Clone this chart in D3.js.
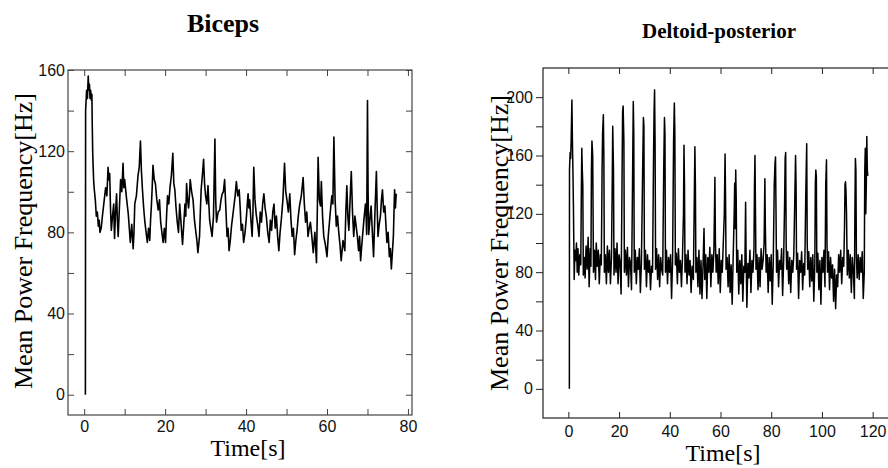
<!DOCTYPE html>
<html><head><meta charset="utf-8">
<script src="https://cdn.jsdelivr.net/npm/d3@7"></script>
<style>body{margin:0;background:#fff}svg{display:block}</style>
</head><body><svg id="c" width="888" height="468"></svg>
<script>
// ---------------- data ----------------
const chartTitles = ["Biceps", "Deltoid-posterior"];
const xAxisTitle = "Time[s]";
const yAxisTitle = "Mean Power Frequency[Hz]";

const bicepsXTicks = [0,10,20,30,40,50,60,70,80];
const bicepsXLabels = [0,20,40,60,80];
const bicepsYTicks = [0,20,40,60,80,100,120,140,160];
const bicepsYLabels = [0,40,80,120,160];

const deltoidXTicks = [0,20,40,60,80,100,120];
const deltoidXLabels = [0,20,40,60,80,100,120];
const deltoidYTicks = [0,20,40,60,80,100,120,140,160,180,200];
const deltoidYLabels = [0,40,80,120,160,200];

// [time s, mean power frequency Hz]
const bicepsPoints = [
[0.3,0],[0.35,140],[0.6,150],[0.8,146],[1.0,157],[1.15,150],[1.3,153],[1.45,146],[1.6,150],[1.8,145],
[1.9,148],[2.0,132],[2.1,120],[2.2,113],[2.35,105],[2.5,101],[2.75,96],[3.0,88],[3.25,90],[3.5,83],
[3.7,86],[3.9,80],[4.2,82],[4.5,88],[4.9,95],[5.3,102],[5.6,98],[5.9,112],[6.1,106],[6.3,109],
[6.5,92],[6.7,81],[7.0,88],[7.3,94],[7.4,84],[7.5,77],[7.75,90],[8.0,99],[8.2,86],[8.4,78],
[8.7,92],[9.0,106],[9.3,100],[9.6,114],[9.8,102],[10.0,106],[10.45,97],[10.9,89],[11.15,82],[11.4,75],
[11.75,84],[12.1,72],[12.3,80],[12.5,94],[12.9,98],[13.3,108],[13.6,112],[13.9,125],[14.15,110],[14.4,101],
[14.7,92],[15.0,85],[15.3,80],[15.6,75],[15.9,82],[16.2,76],[16.4,86],[16.6,93],[16.8,102],[17.0,113],
[17.3,106],[17.6,104],[17.95,96],[18.3,91],[18.6,96],[18.9,85],[19.2,80],[19.5,75],[19.8,82],[20.1,75],
[20.35,88],[20.6,98],[20.9,94],[21.2,102],[21.55,108],[21.9,119],[22.15,104],[22.4,101],[22.7,92],[23.0,85],
[23.3,80],[23.6,94],[23.95,84],[24.3,74],[24.6,84],[24.9,94],[25.1,88],[25.3,104],[25.55,96],[25.8,92],
[26.0,98],[26.2,106],[26.55,100],[26.9,96],[27.25,86],[27.6,80],[27.85,76],[28.1,70],[28.3,74],[28.5,78],
[28.7,90],[28.9,101],[29.2,108],[29.5,116],[29.75,104],[30.0,98],[30.3,94],[30.6,103],[30.8,94],[31.0,86],
[31.3,82],[31.6,78],[31.95,88],[32.3,126],[32.5,96],[32.7,85],[33.1,90],[33.5,91],[33.8,96],[34.1,99],
[34.4,100],[34.7,106],[35.0,92],[35.3,78],[35.55,82],[35.8,71],[36.1,76],[36.4,83],[36.7,88],[37.0,93],
[37.3,98],[37.6,105],[37.95,98],[38.3,101],[38.55,92],[38.8,81],[39.1,84],[39.4,75],[39.75,80],[40.1,88],
[40.3,94],[40.5,99],[40.7,92],[40.9,96],[41.2,86],[41.5,78],[41.7,90],[41.9,112],[42.2,96],[42.5,89],
[42.85,84],[43.2,78],[43.5,90],[43.8,85],[44.1,94],[44.4,99],[44.7,92],[45.0,88],[45.35,80],[45.7,75],
[46.0,86],[46.3,81],[46.6,90],[46.9,94],[47.2,82],[47.5,88],[47.8,78],[48.1,71],[48.4,80],[48.7,86],
[49.1,96],[49.5,114],[49.8,100],[50.1,96],[50.45,90],[50.8,99],[51.1,86],[51.4,78],[51.7,82],[52.0,69],
[52.3,76],[52.6,81],[52.9,88],[53.2,93],[53.65,98],[54.1,107],[54.4,94],[54.7,85],[55.0,90],[55.3,78],
[55.6,82],[55.9,85],[56.25,78],[56.6,70],[57.0,80],[57.4,65],[57.6,90],[57.8,117],[58.1,96],[58.4,93],
[58.6,105],[58.9,88],[59.2,78],[59.6,74],[60.0,68],[60.3,78],[60.6,85],[60.9,92],[61.2,98],[61.45,94],
[61.7,127],[62.0,96],[62.3,83],[62.6,88],[62.9,80],[63.2,74],[63.5,66],[63.95,76],[64.4,71],[64.65,90],
[64.9,103],[65.15,88],[65.4,81],[65.7,96],[66.0,110],[66.3,90],[66.6,78],[66.9,88],[67.2,83],[67.5,78],
[67.8,71],[68.05,78],[68.3,66],[68.6,74],[68.9,81],[69.2,88],[69.5,94],[69.7,86],[69.8,79],[70.0,145],
[70.15,100],[70.3,79],[70.6,86],[70.9,93],[71.2,80],[71.5,68],[71.85,90],[72.2,110],[72.4,92],[72.6,78],
[72.9,84],[73.2,88],[73.45,96],[73.7,101],[74.0,90],[74.3,93],[74.55,84],[74.8,75],[75.1,80],[75.4,68],
[75.65,72],[75.9,62],[76.15,70],[76.4,78],[76.55,90],[76.7,101],[76.9,92],[77.1,99]
];

const deltoidPoints = [
[0.4,0],[0.45,150],[0.7,162],[0.9,158],[1.1,170],[1.4,198],[1.6,170],[1.8,150],[2.0,125],[2.3,75],
[2.6,95],[2.9,88],[3.2,100],[3.5,80],[3.8,96],[4.1,78],[4.5,92],[4.9,85],
[5.1,130],[5.3,165],[5.5,150],[5.7,140],[5.9,78],[6.3,90],[6.6,76],[7.0,98],[7.4,82],[7.8,104],[8.2,70],[8.6,96],[8.9,84],
[9.1,150],[9.3,170],[9.6,160],[9.9,80],[10.3,95],[10.7,75],[11.0,100],[11.4,84],[11.8,95],[12.2,72],[12.6,92],[13.0,85],
[13.3,150],[13.5,175],[13.8,188],[14.0,160],[14.2,80],[14.6,92],[15.0,72],[15.4,98],[15.8,80],[16.2,95],[16.6,72],[17.0,90],
[17.3,140],[17.5,180],[17.8,150],[18.0,78],[18.4,96],[18.8,80],[19.2,100],[19.6,72],[20.0,92],[20.4,86],[20.8,65],
[21.2,150],[21.4,190],[21.6,194],[21.9,170],[22.1,80],[22.5,95],[22.9,78],[23.3,97],[23.7,70],[24.1,90],[24.5,86],[24.9,68],
[25.3,140],[25.6,197],[25.8,175],[26.0,80],[26.4,95],[26.8,72],[27.2,90],[27.6,82],[28.0,96],[28.4,66],[28.8,86],
[29.3,150],[29.6,186],[29.8,180],[30.0,82],[30.4,95],[30.8,70],[31.2,92],[31.6,80],[32.0,88],[32.4,68],[32.8,84],[33.2,80],
[33.6,160],[33.8,190],[34.0,205],[34.2,170],[34.4,82],[34.8,96],[35.2,75],[35.6,92],[36.0,70],[36.4,90],[36.8,82],[37.2,78],
[37.6,150],[37.9,186],[38.1,175],[38.3,80],[38.7,95],[39.1,72],[39.5,90],[39.9,80],[40.3,92],[40.7,62],[41.1,88],
[41.5,170],[41.8,196],[42.0,175],[42.2,85],[42.6,93],[43.0,72],[43.4,96],[43.8,80],[44.2,88],[44.6,70],[45.0,90],
[45.4,120],[45.6,167],[45.8,140],[46.0,80],[46.4,92],[46.8,72],[47.2,95],[47.6,78],[48.0,88],[48.4,66],[48.8,84],[49.3,75],
[49.6,120],[49.9,166],[50.1,140],[50.3,80],[50.7,90],[51.1,70],[51.5,95],[51.9,65],[52.3,88],[52.7,62],[53.1,84],[53.5,110],
[53.8,75],[54.2,92],[54.6,62],[55.0,90],[55.4,80],[55.8,97],[56.2,70],[56.6,92],[57.0,80],[57.4,95],
[57.6,120],[57.8,145],[58.0,100],[58.3,80],[58.7,92],[59.1,72],[59.5,96],[59.9,66],[60.3,88],[60.7,80],[61.1,100],
[61.5,120],[61.8,161],[62.0,130],[62.2,82],[62.6,90],[63.0,70],[63.4,92],[63.8,66],[64.2,85],[64.6,58],[65.0,90],
[65.4,120],[65.6,141],[65.8,110],[66.0,150],[66.2,130],[66.4,80],[66.8,95],[67.2,65],[67.6,88],[68.0,72],[68.4,92],[68.8,60],[69.2,84],[69.6,80],
[69.9,128],[70.1,90],[70.4,56],[70.8,86],[71.2,76],[71.6,95],[72.0,66],[72.4,88],[72.8,80],[73.2,96],
[73.4,140],[73.6,160],[73.8,120],[74.0,82],[74.4,92],[74.8,68],[75.2,90],[75.6,70],[76.0,96],[76.4,82],[76.8,88],[77.2,100],
[77.5,144],[77.7,110],[78.0,80],[78.4,92],[78.8,66],[79.2,90],[79.6,74],[80.0,92],[80.4,58],[80.8,86],[81.2,140],
[81.5,155],[81.7,159],[81.9,120],[82.1,80],[82.5,95],[82.9,70],[83.3,88],[83.7,82],[84.1,96],[84.5,64],[84.9,88],[85.3,130],
[85.5,158],[85.7,162],[85.9,100],[86.1,82],[86.5,94],[86.9,72],[87.3,90],[87.7,66],[88.1,88],[88.5,80],[88.9,92],[89.3,130],
[89.6,160],[89.8,140],[90.0,82],[90.4,93],[90.8,62],[91.2,88],[91.6,80],[92.0,94],[92.4,68],[92.8,86],[93.2,78],[93.6,130],
[93.8,150],[94.0,168],[94.2,100],[94.4,82],[94.8,94],[95.2,70],[95.6,90],[96.0,74],[96.4,92],[96.8,60],[97.2,86],
[97.4,140],[97.6,150],[97.8,145],[98.0,80],[98.4,93],[98.8,68],[99.2,88],[99.6,58],[100.0,90],[100.4,80],[100.8,95],[101.2,70],
[101.5,140],[101.8,157],[102.0,100],[102.2,80],[102.6,94],[103.0,68],[103.4,90],[103.8,76],[104.2,85],[104.6,60],[105.0,82],
[105.4,55],[105.8,78],[106.2,70],[106.6,92],[107.0,80],[107.4,95],[107.8,72],[108.2,90],[108.6,84],
[108.9,110],[109.1,140],[109.3,142],[109.5,135],[109.7,120],[110.0,78],[110.4,95],[110.8,76],[111.2,92],[111.6,66],[112.0,90],[112.4,80],[112.8,62],
[113.0,120],[113.2,158],[113.4,150],[113.6,90],[113.9,76],[114.3,92],[114.7,75],[115.1,90],[115.5,80],[115.9,94],[116.3,62],[116.7,80],
[116.9,150],[117.1,165],[117.3,120],[117.5,140],[117.7,173],[117.9,150],[118.1,146]
];

// ---------------- drawing ----------------
const svg = d3.select("#c");
svg.append("rect").attr("width",888).attr("height",468).attr("fill","#fff");
const SERIF = "'Liberation Serif','Times New Roman',serif";
const SANS = "'Liberation Sans',Arial,sans-serif";

function panel(o){
  const g = svg.append("g");
  const x = d3.scaleLinear().domain(o.xDom).range([o.left,o.right]);
  const y = d3.scaleLinear().domain(o.yDom).range([o.bottom,o.top]);
  const cid = "clip" + o.id;
  svg.append("clipPath").attr("id",cid).append("rect")
    .attr("x",o.left).attr("y",o.top).attr("width",o.right-o.left).attr("height",o.bottom-o.top);

  g.append("path").datum(o.data)
    .attr("clip-path",`url(#${cid})`)
    .attr("fill","none").attr("stroke","#000").attr("stroke-width",o.lineWidth)
    .attr("stroke-linejoin","round")
    .attr("d", d3.line().x(d=>x(d[0])).y(d=>y(d[1])));

  const fmt = labels => d => labels.includes(d) ? String(d) : "";
  const style = sel => {
    sel.select(".domain").remove();
    sel.selectAll("line").attr("stroke",o.axisColor).attr("stroke-width",1);
    sel.selectAll("text").attr("font-family",SANS).attr("font-size",16).attr("fill","#111");
  };

  g.append("g").attr("transform",`translate(0,${o.bottom})`)
    .call(d3.axisBottom(x).tickValues(o.xTicks).tickFormat(fmt(o.xLabels)).tickSizeInner(-6).tickSizeOuter(0).tickPadding(o.xPad))
    .call(style);
  g.append("g").attr("transform",`translate(0,${o.top})`)
    .call(d3.axisTop(x).tickValues(o.xTicks).tickFormat("").tickSizeInner(-6).tickSizeOuter(0))
    .call(style);
  g.append("g").attr("transform",`translate(${o.left},0)`)
    .call(d3.axisLeft(y).tickValues(o.yTicks).tickFormat(fmt(o.yLabels)).tickSizeInner(o.yTickLeft).tickSizeOuter(0).tickPadding(o.yPad))
    .call(style);
  g.append("g").attr("transform",`translate(${o.right},0)`)
    .call(d3.axisRight(y).tickValues(o.yTicks).tickFormat("").tickSizeInner(-6).tickSizeOuter(0))
    .call(style);

  g.append("rect").attr("x",o.left).attr("y",o.top)
    .attr("width",o.right-o.left).attr("height",o.bottom-o.top)
    .attr("fill","none").attr("stroke",o.axisColor).attr("stroke-width",1.2);

  g.append("text").attr("x",o.titleX).attr("y",o.titleY).attr("text-anchor","middle")
    .attr("font-family",SERIF).attr("font-weight","bold").attr("font-size",o.titleSize).attr("fill","#000")
    .text(o.title);
  g.append("text").attr("x",o.xTitleX).attr("y",o.xTitleY).attr("text-anchor","middle")
    .attr("font-family",SERIF).attr("font-size",24).attr("fill","#000").text(xAxisTitle);
  g.append("text").attr("transform",`translate(${o.yTitleX},${o.yTitleY}) rotate(-90)`)
    .attr("text-anchor","middle")
    .attr("font-family",SERIF).attr("font-size",26).attr("fill","#000").text(yAxisTitle);
}

panel({
  id:"a", data:bicepsPoints, title:chartTitles[0], lineWidth:1.6,
  left:68, right:412, top:70, bottom:415,
  xDom:[-4,81], yDom:[-10,160],
  xTicks:bicepsXTicks, xLabels:bicepsXLabels, yTicks:bicepsYTicks, yLabels:bicepsYLabels,
  yTickLeft:-6, yPad:3, xPad:6, axisColor:"#444",
  titleX:223, titleY:32, titleSize:26,
  xTitleX:248, xTitleY:456, yTitleX:32, yTitleY:241
});
panel({
  id:"b", data:deltoidPoints, title:chartTitles[1], lineWidth:1.5,
  left:543, right:898, top:68, bottom:418,
  xDom:[-10,130], yDom:[-20,220],
  xTicks:deltoidXTicks, xLabels:deltoidXLabels, yTicks:deltoidYTicks, yLabels:deltoidYLabels,
  yTickLeft:7, yPad:3, xPad:8, axisColor:"#222",
  titleX:719, titleY:38, titleSize:21,
  xTitleX:723, xTitleY:461, yTitleX:508, yTitleY:243
});
</script></body></html>
